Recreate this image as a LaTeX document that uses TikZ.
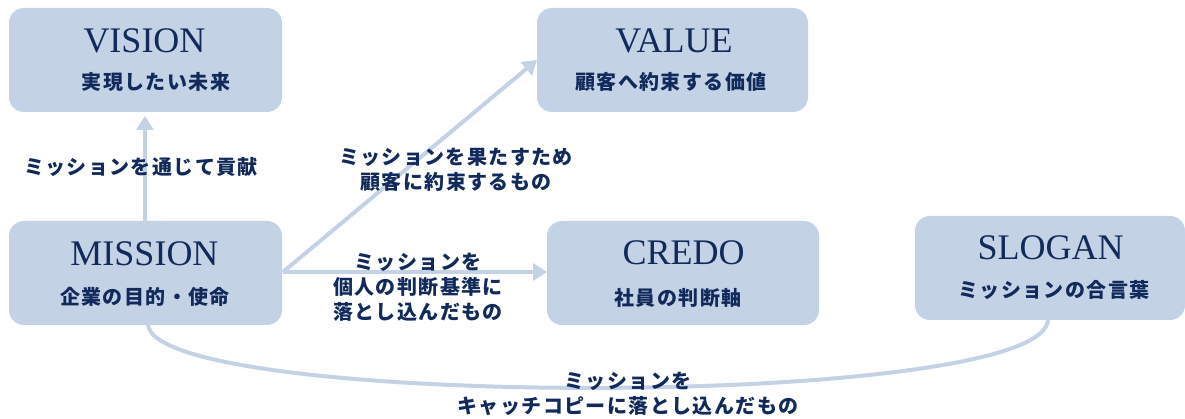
\documentclass[tikz,border=0pt]{standalone}
\usepackage{fontspec}
\usetikzlibrary{arrows.meta}
\setmainfont{Liberation Serif}
\newfontfamily\jpfont[LetterSpace=7]{Noto Sans CJK JP}
\definecolor{boxblue}{HTML}{C4D2E5}
\definecolor{navy}{HTML}{112A5B}
\begin{document}
\begin{tikzpicture}[x=1pt,y=-1pt,
  box/.style={fill=boxblue,rounded corners=15pt,minimum height=104pt,inner sep=0pt},
  ttl/.style={text=navy,font=\fontsize{36}{38}\selectfont,inner sep=0pt},
  sub/.style={text=navy,font=\jpfont\bfseries\fontsize{20}{22}\selectfont,inner sep=0pt},
  lbl/.style={text=navy,font=\jpfont\bfseries\fontsize{20}{25}\selectfont,align=center,inner sep=0pt},
  conn/.style={draw=boxblue,line width=4pt},
  arr/.style={conn,-{Triangle[length=14pt,width=17pt]}}]
\useasboundingbox (0,0) rectangle (1185,419);
% boxes
\node[box,minimum width=273pt] (vision) at (145.5,60) {};
\node[box,minimum width=271pt] (value) at (672.5,60) {};
\node[box,minimum width=273pt] (mission) at (145.5,273) {};
\node[box,minimum width=272pt] (credo) at (683,273) {};
\node[box,minimum width=270pt] (slogan) at (1050,268) {};
% connectors
\coordinate (mright) at (283,272);
\coordinate (vbot) at (145,116);
\coordinate (mtop) at (145,221);
\coordinate (valin) at (537,60);
\coordinate (credin) at (547,272);
\coordinate (mbot) at (148,324);
\coordinate (sbot) at (1048,319);
\draw[arr] (mtop) -- (vbot);
\draw[arr] (mright) -- (valin);
\draw[arr] (mright) -- (credin);
\draw[conn] (mbot) .. controls (150,410) and (1050,410) .. (sbot);
% titles
\node[ttl] (vision-t) at (144.5,41) {VISION};
\node[ttl] (value-t) at (674,41) {VALUE};
\node[ttl] (mission-t) at (144.5,254) {MISSION};
\node[ttl] (credo-t) at (683.5,253) {CREDO};
\node[ttl] (slogan-t) at (1050.5,248) {SLOGAN};
% subtitles
\node[sub] (vision-s) at (156,82) {実現したい未来};
\node[sub] (value-s) at (671,82) {顧客へ約束する価値};
\node[sub] (mission-s) at (145,297) {企業の目的・使命};
\node[sub] (credo-s) at (678,298) {社員の判断軸};
\node[sub] (slogan-s) at (1054,290) {ミッションの合言葉};
% labels
\node[lbl] (l1) at (141,167) {ミッションを通じて貢献};
\node[lbl] (l2) at (456,169.5) {ミッションを果たすため\\顧客に約束するもの};
\node[lbl] (l3) at (418,287) {ミッションを\\個人の判断基準に\\落とし込んだもの};
\node[lbl] (l4) at (628,393.5) {ミッションを\\キャッチコピーに落とし込んだもの};
\end{tikzpicture}
\end{document}
